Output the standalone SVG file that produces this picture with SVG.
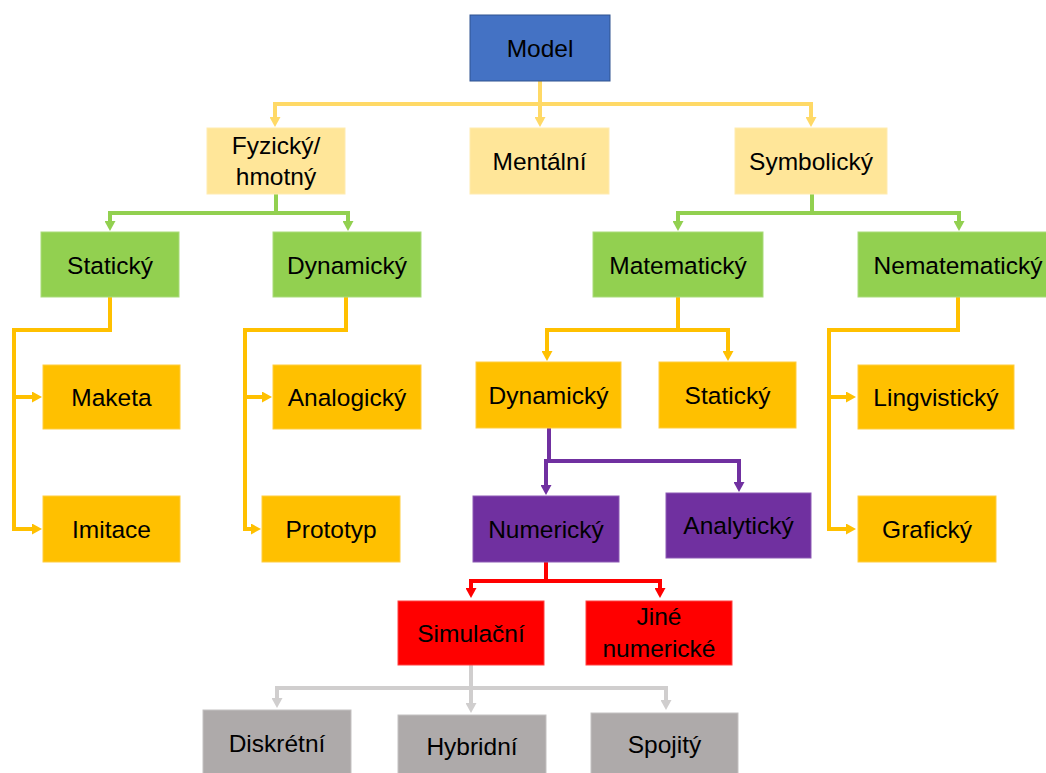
<svg xmlns="http://www.w3.org/2000/svg" width="1046" height="773" viewBox="0 0 1046 773">
<style>
text{font-family:"Liberation Sans",Arial,sans-serif;font-size:24.5px;fill:#000;text-anchor:middle}
.c{fill:none;stroke-width:4;stroke-linejoin:miter}
.yl{stroke:#FFD966}.gr{stroke:#92D050}.or{stroke:#FFC000}.pu{stroke:#7030A0}.rd{stroke:#FF0000}.gy{stroke:#D0CECE}
.b{stroke-width:1}
.blue{fill:#4472C4;stroke:#2F528F}
.lyel{fill:#FFE699;stroke:#FFEBB0}
.grn{fill:#92D050;stroke:#A9DB7B}
.org{fill:#FFC000;stroke:#FFCD40}
.pur{fill:#7030A0;stroke:#8D5AB5}
.red{fill:#FF0000;stroke:#FF4040}
.gry{fill:#AEAAAA;stroke:#C4C1C1}
</style>
<defs>
<marker id="aY" markerUnits="userSpaceOnUse" markerWidth="10" markerHeight="11" refX="0" refY="5.5" orient="auto-start-reverse"><path d="M0,0 L10,5.5 L0,11 z" fill="#FFD966"/></marker>
<marker id="aG" markerUnits="userSpaceOnUse" markerWidth="10" markerHeight="11" refX="0" refY="5.5" orient="auto-start-reverse"><path d="M0,0 L10,5.5 L0,11 z" fill="#92D050"/></marker>
<marker id="aO" markerUnits="userSpaceOnUse" markerWidth="10" markerHeight="11" refX="0" refY="5.5" orient="auto-start-reverse"><path d="M0,0 L10,5.5 L0,11 z" fill="#FFC000"/></marker>
<marker id="aP" markerUnits="userSpaceOnUse" markerWidth="10" markerHeight="11" refX="0" refY="5.5" orient="auto-start-reverse"><path d="M0,0 L10,5.5 L0,11 z" fill="#7030A0"/></marker>
<marker id="aR" markerUnits="userSpaceOnUse" markerWidth="10" markerHeight="11" refX="0" refY="5.5" orient="auto-start-reverse"><path d="M0,0 L10,5.5 L0,11 z" fill="#FF0000"/></marker>
<marker id="aS" markerUnits="userSpaceOnUse" markerWidth="10" markerHeight="11" refX="0" refY="5.5" orient="auto-start-reverse"><path d="M0,0 L10,5.5 L0,11 z" fill="#D0CECE"/></marker>
</defs>
<rect width="1046" height="773" fill="#fff"/>
<g id="connectors">
<path class="c yl" d="M540,81 V117" marker-end="url(#aY)"/>
<path class="c yl" d="M275,117 V104 H811 V117" marker-start="url(#aY)" marker-end="url(#aY)"/>
<path class="c gr" d="M276,194 V213"/>
<path class="c gr" d="M110,221 V213 H348 V221" marker-start="url(#aG)" marker-end="url(#aG)"/>
<path class="c gr" d="M812,194 V213"/>
<path class="c gr" d="M678,221 V213 H959 V221" marker-start="url(#aG)" marker-end="url(#aG)"/>
<path class="c or" d="M110,297 V330 H14 V529 H32" marker-end="url(#aO)"/>
<path class="c or" d="M14,397 H32" marker-end="url(#aO)"/>
<path class="c or" d="M346,297 V330 H245 V529 H251" marker-end="url(#aO)"/>
<path class="c or" d="M245,397 H262" marker-end="url(#aO)"/>
<path class="c or" d="M678,297 V330"/>
<path class="c or" d="M547,351 V330 H728 V351" marker-start="url(#aO)" marker-end="url(#aO)"/>
<path class="c or" d="M958,297 V330 H829 V529 H846" marker-end="url(#aO)"/>
<path class="c or" d="M829,397 H846" marker-end="url(#aO)"/>
<path class="c pu" d="M549,428 V461"/>
<path class="c pu" d="M546,485 V461 H739 V482" marker-start="url(#aP)" marker-end="url(#aP)"/>
<path class="c rd" d="M546,562 V581"/>
<path class="c rd" d="M471,588 V581 H660 V588" marker-start="url(#aR)" marker-end="url(#aR)"/>
<path class="c gy" d="M471,665 V703" marker-end="url(#aS)"/>
<path class="c gy" d="M277,698 V688 H666 V700" marker-start="url(#aS)" marker-end="url(#aS)"/>
</g>
<g id="model"><rect class="b blue" x="470" y="15" width="140" height="66"/><text x="540" y="57">Model</text></g>
<g id="fyzicky"><rect class="b lyel" x="207" y="128" width="138" height="66"/><text x="276" y="154">Fyzický/</text><text x="276" y="185">hmotný</text></g>
<g id="mentalni"><rect class="b lyel" x="470" y="128" width="139" height="66"/><text x="539.5" y="170">Mentální</text></g>
<g id="symbolicky"><rect class="b lyel" x="735" y="128" width="152" height="66"/><text x="811" y="170">Symbolický</text></g>
<g id="staticky1"><rect class="b grn" x="41" y="232" width="138" height="65"/><text x="110" y="273.5">Statický</text></g>
<g id="dynamicky1"><rect class="b grn" x="273" y="232" width="148" height="65"/><text x="347" y="273.5">Dynamický</text></g>
<g id="matematicky"><rect class="b grn" x="593" y="232" width="170" height="65"/><text x="678" y="273.5">Matematický</text></g>
<g id="nematematicky"><rect class="b grn" x="858" y="232" width="200" height="65"/><text x="958" y="273.5">Nematematický</text></g>
<g id="maketa"><rect class="b org" x="43" y="365" width="137" height="64"/><text x="111.5" y="406">Maketa</text></g>
<g id="imitace"><rect class="b org" x="43" y="496" width="137" height="66"/><text x="111.5" y="538">Imitace</text></g>
<g id="analogicky"><rect class="b org" x="273" y="365" width="148" height="64"/><text x="347" y="406">Analogický</text></g>
<g id="prototyp"><rect class="b org" x="262" y="496" width="138" height="66"/><text x="331" y="538">Prototyp</text></g>
<g id="dynamicky2"><rect class="b org" x="476" y="362" width="145" height="66"/><text x="548.5" y="404">Dynamický</text></g>
<g id="staticky2"><rect class="b org" x="659" y="362" width="137" height="66"/><text x="727.5" y="404">Statický</text></g>
<g id="lingvisticky"><rect class="b org" x="858" y="365" width="156" height="64"/><text x="936" y="406">Lingvistický</text></g>
<g id="graficky"><rect class="b org" x="858" y="496" width="138" height="66"/><text x="927" y="538">Grafický</text></g>
<g id="numericky"><rect class="b pur" x="473" y="496" width="146" height="66"/><text x="546" y="538">Numerický</text></g>
<g id="analyticky"><rect class="b pur" x="666" y="493" width="145" height="65"/><text x="738.5" y="534">Analytický</text></g>
<g id="simulacni"><rect class="b red" x="398" y="601" width="146" height="64"/><text x="471" y="642">Simulační</text></g>
<g id="jine"><rect class="b red" x="586" y="601" width="146" height="64"/><text x="659" y="625">Jiné</text><text x="659" y="657">numerické</text></g>
<g id="diskretni"><rect class="b gry" x="203" y="710" width="148" height="70"/><text x="277" y="752">Diskrétní</text></g>
<g id="hybridni"><rect class="b gry" x="398" y="715" width="148" height="70"/><text x="472" y="755">Hybridní</text></g>
<g id="spojity"><rect class="b gry" x="591" y="713" width="147" height="70"/><text x="664.5" y="753">Spojitý</text></g>
</svg>
